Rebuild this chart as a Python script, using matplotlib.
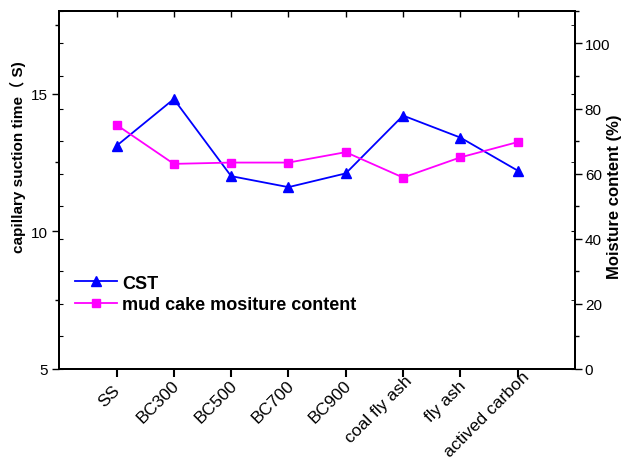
import matplotlib.pyplot as plt
import numpy as np
from matplotlib.font_manager import FontProperties
from matplotlib.textpath import TextPath
from matplotlib.transforms import ScaledTranslation

plt.rcParams['font.family'] = ['Liberation Sans', 'Noto Sans CJK SC', 'DejaVu Sans']

# samples on the x axis
samples = ["SS", "BC300", "BC500", "BC700", "BC900",
           "coal fly ash", "fly ash", "actived carbon"]
# capillary suction time, s
cst = [13.1, 14.8, 12.0, 11.6, 12.1, 14.2, 13.4, 12.2]
# mud cake moisture content, %
moisture = [75.0, 63.0, 63.4, 63.4, 66.6, 58.8, 65.0, 69.7]

x = np.arange(len(samples))

fig = plt.figure(figsize=(6.23, 4.6), dpi=100)
ax = fig.add_axes([0.095, 0.196, 0.828, 0.778])
ax2 = ax.twinx()

l1, = ax.plot(x, cst, color='#0000ff', marker='^', markersize=7.5, lw=1.3, label='CST')
l2, = ax2.plot(x, moisture, color='#ff00ff', marker='s', markersize=6, lw=1.3,
               label='mud cake mositure content')

ax.set_xlim(-1, 8)
ax.set_ylim(5, 18)
ax2.set_ylim(0, 110)

ax.set_yticks([5, 10, 15])
ax.set_yticks(np.arange(5, 18, 2.5), minor=True)
ax2.set_yticks(np.arange(0, 101, 20))
ax2.set_yticks(np.arange(0, 111, 10), minor=True)

ax.set_xticks(x)
ax.tick_params(axis='x', which='major', direction='out', length=6, width=1.5,
               labelbottom=False)
ax.tick_params(axis='y', which='major', direction='out', length=5, width=1, labelsize=11)
ax.tick_params(axis='y', which='minor', direction='out', length=3, width=1)
ax2.tick_params(axis='y', which='major', direction='out', length=5, width=1,
                labelsize=11, pad=2)
ax2.tick_params(axis='y', which='minor', direction='out', length=3, width=1)

# slanted sample names; longer names sit a little higher and further right
fp = FontProperties(family='Liberation Sans', size=12.5)
for xi, name in zip(x, samples):
    L = TextPath((0, 0), name, prop=fp).get_extents().width * fig.dpi / 72
    off = ScaledTranslation((-7 + 0.1 * L) / fig.dpi, (-16 + 0.15 * L) / fig.dpi,
                            fig.dpi_scale_trans)
    ax.text(xi, 0, name, transform=ax.get_xaxis_transform() + off,
            rotation=45, ha='right', va='top', rotation_mode='anchor',
            fontproperties=fp, clip_on=False)

# mirrored inward ticks: left scale on the right spine, right scale on the left spine
ax3 = ax.twinx()
ax3.set_ylim(ax.get_ylim())
ax3.set_yticks([5, 10, 15])
ax3.set_yticks(np.arange(5, 18, 2.5), minor=True)
ax3.tick_params(axis='y', which='both', direction='in', length=3, labelright=False)
ax4 = ax2.twinx()
ax2.yaxis.tick_right()
ax2.yaxis.set_label_position('right')
ax4.set_ylim(ax2.get_ylim())
ax4.yaxis.tick_left()
ax4.set_yticks(np.arange(0, 111, 10))
ax4.tick_params(axis='y', which='both', direction='in', length=3,
                labelleft=False, labelright=False)
for a in (ax3, ax4):
    a.patch.set_visible(False)

# inward ticks along the top edge
top = ax.secondary_xaxis('top')
top.set_xticks(x)
top.tick_params(axis='x', direction='in', length=4, width=1, labeltop=False)

for a in (ax, ax2, ax3, ax4):
    for s in a.spines.values():
        s.set_linewidth(1.2)
top.spines['top'].set_linewidth(1.2)

ax.set_ylabel('capillary suction time（ S)', fontsize=11, fontweight='bold')
ax.yaxis.set_label_coords(-0.065, 0.595)
ax2.set_ylabel('Moisture content (%)', fontsize=12, fontweight='bold')
ax2.yaxis.set_label_coords(1.062, 0.485)

leg = ax.legend([l1, l2], ['CST', 'mud cake mositure content'],
                loc='lower left', bbox_to_anchor=(0.0, 0.11), frameon=False,
                prop={'weight': 'bold', 'size': 13}, handlelength=2.3,
                handletextpad=0.3, labelspacing=0.25)

fig.savefig('out.png', dpi=100)
